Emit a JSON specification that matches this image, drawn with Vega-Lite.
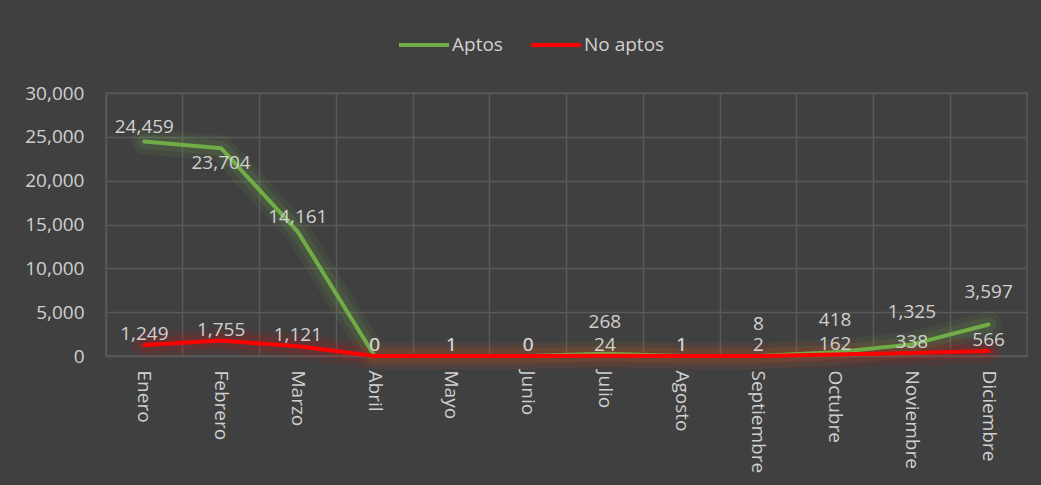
{
  "$schema": "https://vega.github.io/schema/vega-lite/v6.json",
  "autosize": {"type": "none"},
  "width": 921,
  "height": 263,
  "padding": {"left": 106, "top": 93, "right": 14, "bottom": 129},
  "background": "#404040",
  "config": {
    "font": "Open Sans",
    "view": {"stroke": "#595959", "strokeWidth": 1.5},
    "axis": {"labelColor": "#d0d0d0", "labelFontSize": 19, "labelFont": "Open Sans"},
    "legend": {"labelColor": "#d0d0d0", "labelFontSize": 19, "labelFont": "Open Sans"}
  },
  "data": {
    "values": [
      {"Mes": "Enero", "Serie": "Aptos", "Valor": 24459},
      {"Mes": "Febrero", "Serie": "Aptos", "Valor": 23704},
      {"Mes": "Marzo", "Serie": "Aptos", "Valor": 14161},
      {"Mes": "Abril", "Serie": "Aptos", "Valor": 0},
      {"Mes": "Mayo", "Serie": "Aptos", "Valor": 1},
      {"Mes": "Junio", "Serie": "Aptos", "Valor": 0},
      {"Mes": "Julio", "Serie": "Aptos", "Valor": 268},
      {"Mes": "Agosto", "Serie": "Aptos", "Valor": 1},
      {"Mes": "Septiembre", "Serie": "Aptos", "Valor": 8},
      {"Mes": "Octubre", "Serie": "Aptos", "Valor": 418},
      {"Mes": "Noviembre", "Serie": "Aptos", "Valor": 1325},
      {"Mes": "Diciembre", "Serie": "Aptos", "Valor": 3597},
      {"Mes": "Enero", "Serie": "No aptos", "Valor": 1249},
      {"Mes": "Febrero", "Serie": "No aptos", "Valor": 1755},
      {"Mes": "Marzo", "Serie": "No aptos", "Valor": 1121},
      {"Mes": "Abril", "Serie": "No aptos", "Valor": 0},
      {"Mes": "Mayo", "Serie": "No aptos", "Valor": 1},
      {"Mes": "Junio", "Serie": "No aptos", "Valor": 0},
      {"Mes": "Julio", "Serie": "No aptos", "Valor": 24},
      {"Mes": "Agosto", "Serie": "No aptos", "Valor": 1},
      {"Mes": "Septiembre", "Serie": "No aptos", "Valor": 2},
      {"Mes": "Octubre", "Serie": "No aptos", "Valor": 162},
      {"Mes": "Noviembre", "Serie": "No aptos", "Valor": 338},
      {"Mes": "Diciembre", "Serie": "No aptos", "Valor": 566}
    ]
  },
  "encoding": {
    "x": {
      "field": "Mes",
      "type": "nominal",
      "sort": ["Enero","Febrero","Marzo","Abril","Mayo","Junio","Julio","Agosto","Septiembre","Octubre","Noviembre","Diciembre"],
      "scale": {"type": "band", "paddingInner": 0, "paddingOuter": 0},
      "bandPosition": 0.5,
      "title": null,
      "axis": {
        "bandPosition": 0,
        "labelAngle": 90,
        "labelAlign": "left",
        "labelBaseline": "middle",
        "labelPadding": 14,
        "labelFontSize": 19,
        "ticks": false,
        "tickSize": 0,
        "domain": false,
        "grid": true,
        "gridColor": "#595959",
        "gridWidth": 1.5,
        "labelOverlap": false,
        "labelBound": false,
        "labelFlush": false
      }
    },
    "y": {
      "field": "Valor",
      "type": "quantitative",
      "scale": {"domain": [0, 30000], "nice": false},
      "title": null,
      "axis": {
        "values": [0, 5000, 10000, 15000, 20000, 25000, 30000],
        "format": ",.0f",
        "labelFontSize": 19,
        "ticks": false,
        "tickSize": 0,
        "labelPadding": 22,
        "domain": false,
        "grid": true,
        "gridColor": "#595959",
        "gridWidth": 1.5
      }
    }
  },
  "layer": [
    {
      "transform": [{"filter": "datum.Serie === 'Aptos'"}],
      "mark": {"type": "line", "stroke": "#70AD47", "strokeWidth": 26, "opacity": 0.08, "strokeCap": "round", "strokeJoin": "round"}
    },
    {
      "transform": [{"filter": "datum.Serie === 'Aptos'"}],
      "mark": {"type": "line", "stroke": "#70AD47", "strokeWidth": 15, "opacity": 0.14, "strokeCap": "round", "strokeJoin": "round"}
    },
    {
      "transform": [{"filter": "datum.Serie === 'No aptos'"}],
      "mark": {"type": "line", "stroke": "#FF0000", "strokeWidth": 26, "opacity": 0.07, "strokeCap": "round", "strokeJoin": "round"}
    },
    {
      "transform": [{"filter": "datum.Serie === 'No aptos'"}],
      "mark": {"type": "line", "stroke": "#FF0000", "strokeWidth": 15, "opacity": 0.12, "strokeCap": "round", "strokeJoin": "round"}
    },
    {
      "mark": {"type": "line", "strokeWidth": 4, "strokeCap": "round", "strokeJoin": "round"},
      "encoding": {
        "color": {
          "field": "Serie",
          "type": "nominal",
          "scale": {"domain": ["Aptos", "No aptos"], "range": ["#70AD47", "#FF0000"]},
          "legend": {
            "title": null,
            "orient": "none",
            "direction": "horizontal",
            "legendX": 291,
            "legendY": -75,
            "symbolType": "stroke",
            "symbolSize": 2500,
            "symbolStrokeWidth": 4,
            "labelOffset": 1,
            "columnPadding": 20
          }
        }
      }
    },
    {
      "transform": [{"filter": "datum.Serie === 'Aptos' && datum.Valor >= 5000 && datum.Mes !== 'Febrero'"}],
      "mark": {"type": "text", "baseline": "middle", "dy": -15, "fontSize": 19, "color": "#d0d0d0"},
      "encoding": {"text": {"field": "Valor", "type": "quantitative", "format": ","}}
    },
    {
      "transform": [{"filter": "datum.Serie === 'Aptos' && datum.Mes === 'Febrero'"}],
      "mark": {"type": "text", "baseline": "middle", "dy": 15, "fontSize": 19, "color": "#d0d0d0"},
      "encoding": {"text": {"field": "Valor", "type": "quantitative", "format": ","}}
    },
    {
      "transform": [{"filter": "datum.Serie === 'Aptos' && datum.Valor > 1 && datum.Valor < 5000"}],
      "mark": {"type": "text", "baseline": "middle", "dy": -32, "fontSize": 19, "color": "#d0d0d0"},
      "encoding": {"text": {"field": "Valor", "type": "quantitative", "format": ","}}
    },
    {
      "transform": [{"filter": "datum.Valor <= 1 || datum.Serie === 'No aptos'"}],
      "mark": {"type": "text", "baseline": "middle", "dy": -11, "fontSize": 19, "color": "#d0d0d0"},
      "encoding": {"text": {"field": "Valor", "type": "quantitative", "format": ","}}
    }
  ]
}
